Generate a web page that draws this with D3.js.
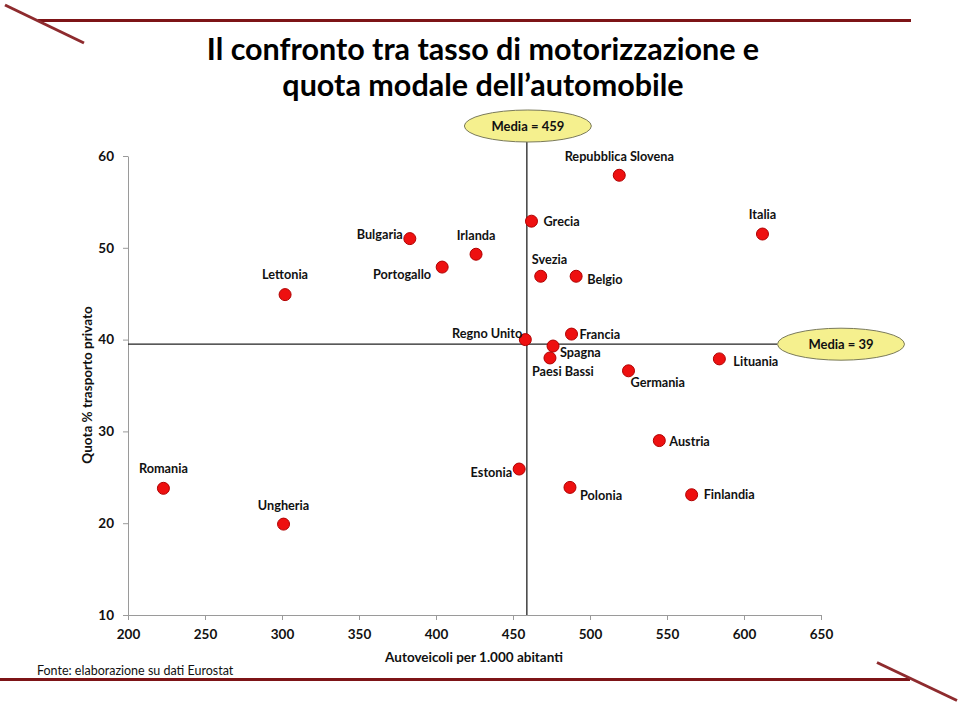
<!DOCTYPE html>
<html><head><meta charset="utf-8">
<script src="https://cdn.jsdelivr.net/npm/d3@7"></script>
<style>
html,body{margin:0;padding:0;background:#fff;}
svg{display:block;}
</style>
</head><body>
<svg id="chart" width="960" height="707"></svg>
<script>
// ---------- DATA ----------
const countries = ["Repubblica Slovena","Grecia","Italia","Bulgaria","Irlanda","Portogallo","Svezia","Belgio","Lettonia","Regno Unito","Francia","Spagna","Paesi Bassi","Lituania","Germania","Austria","Estonia","Romania","Polonia","Finlandia","Ungheria"];
const carsPer1000 = [519, 462, 612, 383, 426, 404, 468, 491, 302, 458, 488, 476, 474, 584, 525, 545, 454, 223, 487, 566, 301];
const carSharePct = [57.9, 52.9, 51.5, 51.0, 49.3, 47.9, 46.9, 46.9, 44.9, 40.0, 40.6, 39.3, 38.0, 37.9, 36.6, 29.0, 25.9, 23.8, 23.9, 23.1, 19.9];
const xTicks = [200, 250, 300, 350, 400, 450, 500, 550, 600, 650];
const yTicks = [10, 20, 30, 40, 50, 60];
const meanX = 459;
const meanY = 39.5;
const meanXLabel = "Media = 459";
const meanYLabel = "Media = 39";
const titleLines = ["Il confronto tra tasso di motorizzazione e", "quota modale dell\u2019automobile"];
const xTitle = "Autoveicoli per 1.000 abitanti";
const yTitle = "Quota % trasporto privato";
const sourceText = "Fonte: elaborazione su dati Eurostat";

// ---------- LAYOUT (label placement, not data) ----------
// placement: [anchor, dx, dy]
const labelPlace = {
  "Repubblica Slovena": ["middle", 0, -19],
  "Grecia": ["start", 12, 0],
  "Italia": ["middle", 0, -19],
  "Bulgaria": ["end", -7, -4],
  "Irlanda": ["middle", 0, -19],
  "Portogallo": ["end", -11, 7],
  "Svezia": ["start", -9, -17],
  "Belgio": ["start", 11, 3],
  "Lettonia": ["middle", 0, -20],
  "Regno Unito": ["end", -3, -6],
  "Francia": ["start", 8, 0],
  "Spagna": ["start", 7, 7],
  "Paesi Bassi": ["start", -18, 14],
  "Lituania": ["start", 14, 3],
  "Germania": ["start", 2, 12],
  "Austria": ["start", 10, 1],
  "Estonia": ["end", -7, 4],
  "Romania": ["middle", 0, -20],
  "Polonia": ["start", 10, 8],
  "Finlandia": ["start", 12, 0],
  "Ungheria": ["middle", 0, -19]
};

const FONT = "Lato, 'Open Sans', sans-serif";
const darkRed = "#7d1417";

const svg = d3.select("#chart");
svg.append("rect").attr("width", 960).attr("height", 707).attr("fill", "#fff");

// decorations
const deco = svg.append("g").attr("stroke-linecap", "butt");
deco.append("line").attr("x1", 38).attr("y1", 20.5).attr("x2", 911).attr("y2", 20.5).attr("stroke", darkRed).attr("stroke-width", 3);
deco.append("line").attr("x1", 5).attr("y1", 5).attr("x2", 84).attr("y2", 43).attr("stroke", "#8e2b2e").attr("stroke-width", 3);
deco.append("line").attr("x1", 0).attr("y1", 679.5).attr("x2", 910).attr("y2", 679.5).attr("stroke", darkRed).attr("stroke-width", 3);
deco.append("line").attr("x1", 877).attr("y1", 662.5).attr("x2", 957).attr("y2", 700.5).attr("stroke", "#8e2b2e").attr("stroke-width", 3);

// title
const title = svg.append("g");
titleLines.forEach((t, i) => {
  title.append("text")
    .attr("x", 483).attr("y", 60 + i * 36)
    .attr("text-anchor", "middle")
    .attr("font-family", FONT).attr("font-weight", 700)
    .attr("font-size", 30.5).attr("fill", "#000")
    .text(t);
});

// source
svg.append("text").attr("x", 37).attr("y", 675)
  .attr("font-family", FONT).attr("font-size", 12.5).attr("fill", "#111")
  .text(sourceText);

// scales
const x = d3.scaleLinear().domain([200, 650]).range([128, 821]);
const y = d3.scaleLinear().domain([10, 60]).range([615, 156]);

// axes
const gx = svg.append("g").attr("transform", `translate(0,${y(10)})`)
  .call(d3.axisBottom(x).tickValues(xTicks).tickSize(5).tickPadding(9).tickSizeOuter(0));
const gy = svg.append("g").attr("transform", `translate(${x(200)},0)`)
  .call(d3.axisLeft(y).tickValues(yTicks).tickSize(5).tickPadding(9).tickSizeOuter(0));
[gx, gy].forEach(g => {
  g.select(".domain").attr("stroke", "#9a9a9a");
  g.selectAll(".tick line").attr("stroke", "#9a9a9a");
  g.selectAll(".tick text").attr("font-family", FONT).attr("font-weight", 700)
    .attr("font-size", 13.5).attr("fill", "#111");
});

// axis titles
svg.append("text").attr("x", 474).attr("y", 661.5).attr("text-anchor", "middle")
  .attr("font-family", FONT).attr("font-weight", 700).attr("font-size", 13.5).attr("fill", "#111")
  .text(xTitle);
svg.append("text").attr("transform", `translate(92,385) rotate(-90)`).attr("text-anchor", "middle")
  .attr("font-family", FONT).attr("font-weight", 700).attr("font-size", 13.5).attr("fill", "#111")
  .text(yTitle);

// mean lines
svg.append("line").attr("x1", x(meanX)).attr("x2", x(meanX)).attr("y1", 142).attr("y2", y(10))
  .attr("stroke", "#222").attr("stroke-width", 1.3);
svg.append("line").attr("x1", x(200)).attr("x2", 777).attr("y1", y(meanY)).attr("y2", y(meanY))
  .attr("stroke", "#222").attr("stroke-width", 1.3);

// mean ellipses
function meanBubble(cx, cy, label) {
  const g = svg.append("g");
  g.append("ellipse").attr("cx", cx).attr("cy", cy).attr("rx", 63.5).attr("ry", 16)
    .attr("fill", "#f5f08e").attr("stroke", "#7a7a5a").attr("stroke-width", 1);
  g.append("text").attr("x", cx).attr("y", cy).attr("dy", "0.35em").attr("text-anchor", "middle")
    .attr("font-family", FONT).attr("font-weight", 700).attr("font-size", 13).attr("fill", "#111")
    .text(label);
}
meanBubble(x(meanX) + 1, 126, meanXLabel);
meanBubble(841, y(meanY), meanYLabel);

// points
const data = countries.map((c, i) => ({ name: c, x: carsPer1000[i], y: carSharePct[i] }));
const pts = svg.append("g");
pts.selectAll("circle").data(data).join("circle")
  .attr("cx", d => x(d.x)).attr("cy", d => y(d.y)).attr("r", 6)
  .attr("fill", "#ee1010").attr("stroke", "#b00000").attr("stroke-width", 1);

// labels
svg.append("g").selectAll("text").data(data).join("text")
  .attr("x", d => x(d.x) + labelPlace[d.name][1])
  .attr("y", d => y(d.y) + labelPlace[d.name][2])
  .attr("dy", "0.35em")
  .attr("text-anchor", d => labelPlace[d.name][0])
  .attr("font-family", FONT).attr("font-weight", 700).attr("font-size", 12.7).attr("fill", "#111")
  .text(d => d.name);
</script>
</body></html>
